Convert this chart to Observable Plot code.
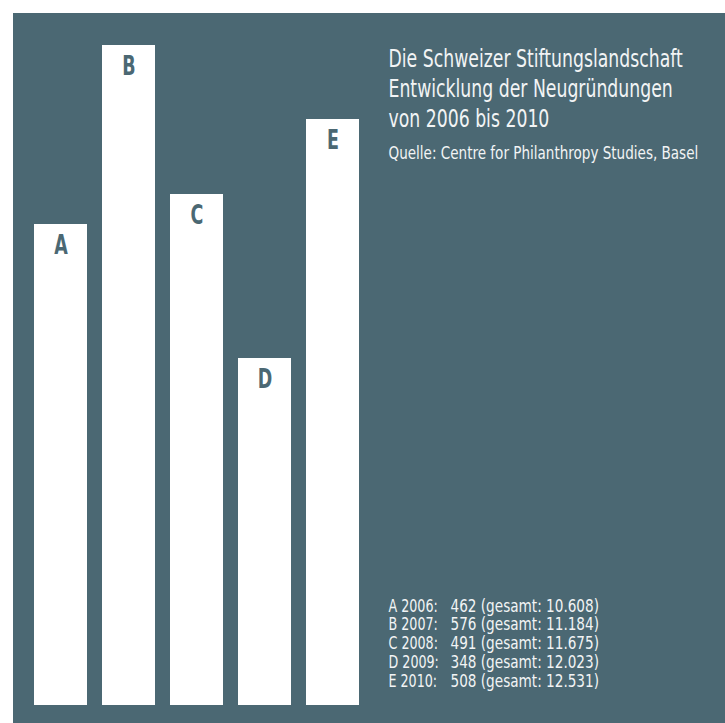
<!DOCTYPE html>
<html>
<head>
<meta charset="utf-8">
<script src="https://cdn.jsdelivr.net/npm/d3@7"></script>
<script src="https://cdn.jsdelivr.net/npm/@observablehq/plot@0.6"></script>
<style>
  html, body { margin: 0; padding: 0; background: #ffffff; }
  #chart { position: absolute; left: 13px; top: 13px; }
  #chart svg { display: block; }
</style>
</head>
<body>
<div id="chart"></div>
<script>
// Data
const letters = ["A", "B", "C", "D", "E"];
const years = [2006, 2007, 2008, 2009, 2010];
const newFoundations = [462, 576, 491, 348, 508];
const totals = [10608, 11184, 11675, 12023, 12531];
// bar lengths as drawn in the reference (not proportional to the values)
const barLengths = [481, 660, 511, 347, 586];

const titleLines = [
  "Die Schweizer Stiftungslandschaft",
  "Entwicklung der Neugründungen",
  "von 2006 bis 2010"
];
const sourceText = "Quelle: Centre for Philanthropy Studies, Basel";

const panel = "#4b6873";
const ink = "#f2f4f5";
const font = "'Liberation Sans Narrow', 'DejaVu Sans Condensed', 'Roboto Condensed', sans-serif";

const de = d3.formatLocale({decimal: ",", thousands: ".", grouping: [3], currency: ["", " CHF"]});
const fmt = de.format(",d");

const rows = letters.map((l, i) => ({
  letter: l,
  year: years[i],
  value: newFoundations[i],
  total: totals[i],
  length: barLengths[i]
}));

const legendLabels = rows.map(d => `${d.letter} ${d.year}:`).join("\n");
const legendValues = rows.map(d => `${d.value} (gesamt: ${fmt(d.total)})`).join("\n");

const chart = Plot.plot({
  width: 712,
  height: 710,
  marginLeft: 21,
  marginRight: 366,
  marginTop: 32,
  marginBottom: 18,
  style: {background: panel, color: ink, fontFamily: font},
  x: {domain: letters, paddingInner: 0.2206, paddingOuter: 0, round: false, axis: null},
  y: {domain: [0, 660], axis: null},
  marks: [
    Plot.barY(rows, {x: "letter", y: "length", fill: "#ffffff"}),
    Plot.text(rows, {
      x: "letter", y: "length", text: "letter", dy: 21,
      fill: panel, fontSize: 27, fontWeight: "bold", fontFamily: font
    }),
    Plot.text([titleLines.join("\n")], {
      frameAnchor: "top-left", dx: 354, dy: 81, lineAnchor: "bottom",
      textAnchor: "start", lineHeight: 1.25, fontSize: 24, fill: ink, fontFamily: font
    }),
    Plot.text([sourceText], {
      frameAnchor: "top-left", dx: 354, dy: 113, lineAnchor: "bottom",
      textAnchor: "start", fontSize: 17.5, fill: ink, fontFamily: font
    }),
    Plot.text([legendLabels], {
      frameAnchor: "bottom-left", dx: 354, dy: -19, lineAnchor: "bottom",
      textAnchor: "start", lineHeight: 1.103, fontSize: 17, fill: ink, fontFamily: font
    }),
    Plot.text([legendValues], {
      frameAnchor: "bottom-left", dx: 416, dy: -19, lineAnchor: "bottom",
      textAnchor: "start", lineHeight: 1.103, fontSize: 17, fill: ink, fontFamily: font
    })
  ]
});
document.getElementById("chart").appendChild(chart);

// condense the fallback font horizontally to mimic the narrow typeface
const squeeze = [0.72, 0.8, 0.86, 0.83, 0.89];
chart.querySelectorAll('g[aria-label="text"]').forEach((g, gi) => {
  const k = squeeze[gi] ?? 1;
  g.querySelectorAll("text").forEach(t => {
    const spans = t.querySelectorAll("tspan");
    const targets = spans.length ? Array.from(spans) : [t];
    targets.forEach(s => {
      const L = s.getComputedTextLength();
      s.setAttribute("textLength", (L * k).toFixed(2));
      s.setAttribute("lengthAdjust", "spacingAndGlyphs");
    });
  });
});
</script>
</body>
</html>
